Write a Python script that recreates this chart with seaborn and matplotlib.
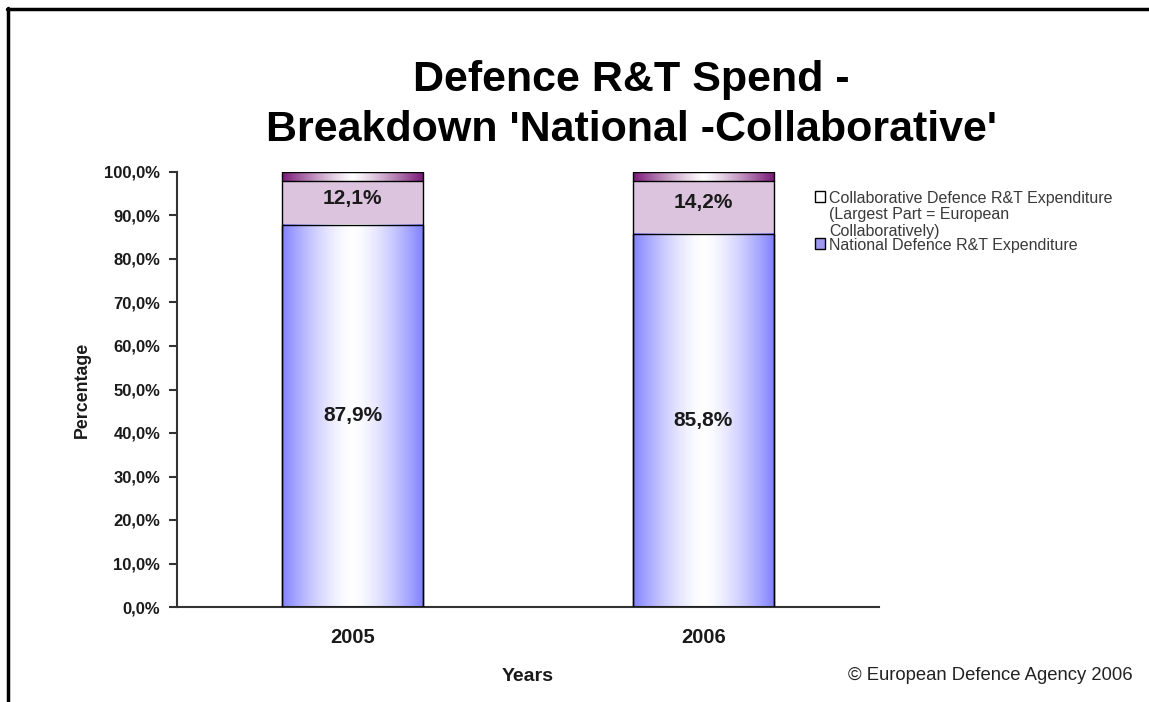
import numpy as np
import pandas as pd
import matplotlib
matplotlib.use("Agg")
import matplotlib.pyplot as plt
import seaborn as sns
from matplotlib.patches import Patch
from matplotlib.lines import Line2D
from matplotlib.colors import to_rgb

# ---------------- data ----------------
years = ["2005", "2006"]
national = [87.9, 85.8]
collaborative = [12.1, 14.2]
y_ticks = [0, 10, 20, 30, 40, 50, 60, 70, 80, 90, 100]
title = "Defence R&T Spend -\nBreakdown 'National -Collaborative'"
legend_labels = ["Collaborative Defence R&T Expenditure\n(Largest Part = European\nCollaboratively)",
                 "National Defence R&T Expenditure"]

# ---------------- style ----------------
sns.set_theme(style="white")
plt.rcParams["font.family"] = ["Liberation Sans", "DejaVu Sans"]

BLUE = "#8282ff"
PINK = "#dcc4de"
PURPLE = "#7a1a78"
TXT = "#1a1a1a"

W, H = 1149, 702
fig = plt.figure(figsize=(W / 100, H / 100), dpi=100)
fig.patch.set_facecolor("white")

ax_l, ax_r, ax_t, ax_b = 177, 879, 172, 607
ax = fig.add_axes([ax_l / W, 1 - ax_b / H, (ax_r - ax_l) / W, (ax_b - ax_t) / H])

df = pd.DataFrame({"year": years, "national": national, "collaborative": collaborative})
df["total"] = df["national"] + df["collaborative"]

sns.barplot(data=df, x="year", y="total", color=PINK, saturation=1, width=0.4,
            edgecolor="black", linewidth=1.0, ax=ax, zorder=1)
n_total = len(ax.patches)
sns.barplot(data=df, x="year", y="national", color=BLUE, saturation=1, width=0.4,
            edgecolor="black", linewidth=1.0, ax=ax, zorder=3)
total_patches = ax.patches[:n_total]
nat_patches = ax.patches[n_total:]


def gradient(color, n=256, power=1.6):
    c = np.array(to_rgb(color))
    t = np.linspace(0, 1, n)
    f = 1 - np.abs(2 * t - 1) ** power
    rgb = c[None, :] + (1 - c[None, :]) * f[:, None]
    return rgb[None, :, :]


# national bars: horizontal blue-white-blue gradient
for p in nat_patches:
    x0, y0 = p.get_x(), p.get_y()
    w, h = p.get_width(), p.get_height()
    ax.imshow(gradient(BLUE, power=1.5), extent=[x0, x0 + w, y0, y0 + h],
              aspect="auto", zorder=2.5, interpolation="bilinear")
    p.set_facecolor("none")

# collaborative bars: pink fill with thin purple gradient strip at top
strip = 2.1
for p in total_patches:
    x0 = p.get_x()
    w, top = p.get_width(), p.get_y() + p.get_height()
    ax.imshow(gradient(PURPLE, power=1.2), extent=[x0, x0 + w, top - strip, top],
              aspect="auto", zorder=2.5, interpolation="bilinear")
    ax.plot([x0, x0 + w], [top - strip, top - strip], color="black", lw=1.0, zorder=4)
    p.set_zorder(3)
    p.set_facecolor("none")
    ax.add_patch(plt.Rectangle((x0, p.get_y()), w, p.get_height(), facecolor=PINK,
                               edgecolor="none", zorder=1))

# value labels
for i, (n, c) in enumerate(zip(national, collaborative)):
    ax.text(i, n / 2, f"{n:.1f}%".replace(".", ","), ha="center", va="center",
            fontsize=15, fontweight="bold", color=TXT, zorder=5)
    ax.text(i, n + c / 2, f"{c:.1f}%".replace(".", ","), ha="center", va="center",
            fontsize=15, fontweight="bold", color=TXT, zorder=5)

# axes
ax.set_xlim(-0.5, 1.5)
ax.set_ylim(0, 100)
ax.set_yticks(y_ticks)
ax.set_yticklabels([f"{v:.1f}%".replace(".", ",") for v in y_ticks],
                   fontsize=12, fontweight="bold", color=TXT)
ax.set_xticks(range(len(years)))
ax.set_xticklabels(years, fontsize=14.5, fontweight="bold", color=TXT)
ax.set_xticks([-0.5, 0.5, 1.5], minor=True)
ax.tick_params(axis="x", which="major", length=0, pad=15)
ax.tick_params(axis="x", which="minor", length=5, width=1.5, color="#333333", direction="out")
ax.tick_params(axis="y", which="major", length=6, width=1.5, color="#333333",
               direction="out", left=True, pad=6)
ax.set_xlabel("Years", fontsize=14, fontweight="bold", color=TXT, labelpad=15.5)
ax.set_ylabel("Percentage", fontsize=12.8, fontweight="bold", color=TXT, labelpad=10)
for s in ["top", "right"]:
    ax.spines[s].set_visible(False)
for s in ["left", "bottom"]:
    ax.spines[s].set_color("#333333")
    ax.spines[s].set_linewidth(1.5)
ax.set_facecolor("white")
ax.grid(False)

# title
fig.text(631 / W, 1 - 105 / H, title, ha="center", va="center", fontsize=31,
         fontweight="bold", color="black", linespacing=1.33)

# legend
handles = [Patch(facecolor="white", edgecolor="black", linewidth=1.0),
           Patch(facecolor="#9f98ef", edgecolor="black", linewidth=1.0)]
leg = fig.legend(handles, legend_labels, loc="upper left",
                 bbox_to_anchor=(815 / W, 1 - 191 / H), frameon=False,
                 fontsize=11.5, handlelength=0.65, handleheight=0.65, handletextpad=0.25,
                 labelspacing=-0.05, borderpad=0, borderaxespad=0)
for t in leg.get_texts():
    t.set_color("#3a3a3a")
    t.set_linespacing(1.12)
# align handles with the first text line
for col in leg._legend_handle_box.get_children():
    for row in col.get_children():
        row.align = "top"

# copyright
fig.text(1133 / W, 1 - 676 / H, "\u00a9 European Defence Agency 2006", ha="right",
         va="center", fontsize=13.3, color="#222222")

# frame lines (top and left)
fig.add_artist(Line2D([7 / W, 1.0], [1 - 9 / H, 1 - 9 / H], color="black", lw=2.5,
                      transform=fig.transFigure))
fig.add_artist(Line2D([8 / W, 8 / W], [0, 1 - 8 / H], color="black", lw=2.5,
                      transform=fig.transFigure))

fig.savefig("out.png", dpi=100)
